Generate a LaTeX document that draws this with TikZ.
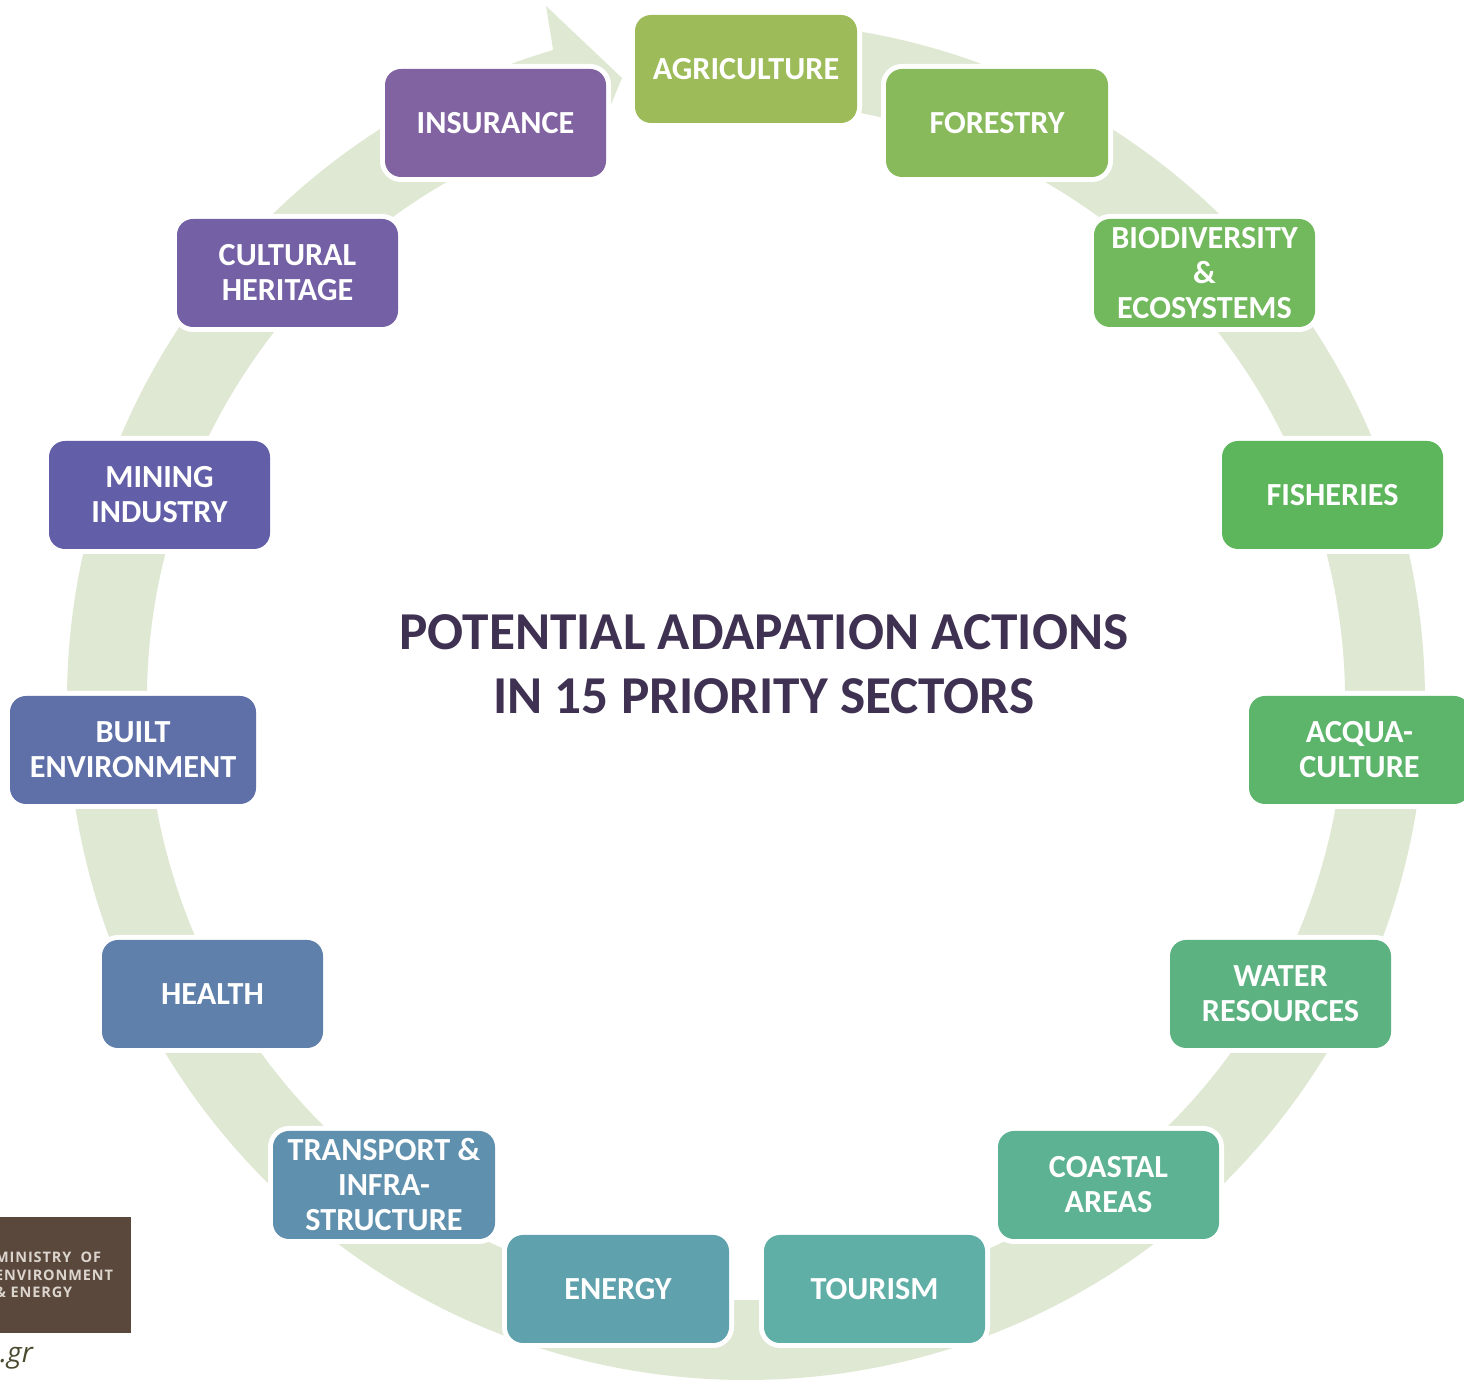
\documentclass[tikz,border=0pt]{standalone}
\usepackage{fontspec}
\usetikzlibrary{calc}
\setmainfont{Carlito}
\newfontfamily\logofont[LetterSpace=6]{Open Sans}
\newfontfamily\urlfont{Open Sans}
\definecolor{ringc}{HTML}{DFE8D3}
\definecolor{titlec}{HTML}{3F3151}
\definecolor{logoc}{HTML}{5A483C}
\definecolor{logot}{HTML}{DCD5CE}
\definecolor{urlc}{HTML}{4A4A30}
\definecolor{cAgri}{HTML}{9DBB59}
\definecolor{cFor}{HTML}{88B95A}
\definecolor{cBio}{HTML}{72B85C}
\definecolor{cFish}{HTML}{5DB65B}
\definecolor{cAcq}{HTML}{5DB46B}
\definecolor{cWat}{HTML}{5DB282}
\definecolor{cCoast}{HTML}{5DB293}
\definecolor{cTour}{HTML}{5FAFA7}
\definecolor{cEner}{HTML}{5FA1AD}
\definecolor{cTrans}{HTML}{5F90AD}
\definecolor{cHeal}{HTML}{5F80AA}
\definecolor{cBuilt}{HTML}{5F6FA8}
\definecolor{cMin}{HTML}{625FA8}
\definecolor{cCult}{HTML}{7360A5}
\definecolor{cIns}{HTML}{8263A1}
\tikzset{
  sector/.style={rounded corners=16pt,inner sep=0pt,text=white,align=center,
    font=\fontsize{32.2}{35}\selectfont\bfseries,
    preaction={draw=white,line width=10pt}},
  headline/.style={inner sep=0pt,text=titlec,align=center,font=\fontsize{53.3}{64}\selectfont\bfseries},
  logotext/.style={inner sep=0pt,anchor=west,text=logot,font=\fontsize{14.5}{18}\selectfont\logofont\bfseries},
}
% name, left, top, right, bottom, colour, text
\newcommand\sectorbox[7]{%
  \node[sector,fill=#6,minimum width={(#4-#2)*1pt},minimum height={(#5-#3)*1pt}]
    (#1) at ({(#2+#4)/2},{1380-(#3+#5)/2}) {#7};}
\begin{document}
\begin{tikzpicture}[x=1pt,y=1pt]
\useasboundingbox (0,0) rectangle (1464,1380);
\coordinate (ringcentre) at (746,679);
\coordinate (wingout) at (546,1374);
\coordinate (headtip) at (622,1302);
\coordinate (wingin) at (584,1210);
\fill[ringc] (ringcentre) ++(90:679pt)
  arc[start angle=90,end angle=-253.5,radius=679pt]
  -- (wingout) -- (headtip) -- (wingin) -- ($(ringcentre)+(106.5:599pt)$)
  arc[start angle=-253.5,end angle=90,radius=599pt] -- cycle;
\sectorbox{agri}{635}{15}{857}{123}{cAgri}{AGRICULTURE}
\sectorbox{forest}{886}{69}{1108}{177}{cFor}{FORESTRY}
\sectorbox{bio}{1094}{219}{1315}{327}{cBio}{BIODIVERSITY\\\&\\ECOSYSTEMS}
\sectorbox{fish}{1222}{441}{1443}{549}{cFish}{FISHERIES}
\sectorbox{acqua}{1249}{696}{1470}{804}{cAcq}{ACQUA-\\CULTURE}
\sectorbox{water}{1170}{940}{1391}{1048}{cWat}{WATER\\RESOURCES}
\sectorbox{coast}{998}{1131}{1219}{1239}{cCoast}{COASTAL\\AREAS}
\sectorbox{tour}{764}{1235}{985}{1343}{cTour}{TOURISM}
\sectorbox{ener}{507}{1235}{729}{1343}{cEner}{ENERGY}
\sectorbox{trans}{273}{1131}{495}{1239}{cTrans}{TRANSPORT \&\\INFRA-\\STRUCTURE}
\sectorbox{health}{102}{940}{323}{1048}{cHeal}{HEALTH}
\sectorbox{built}{10}{696}{256}{804}{cBuilt}{BUILT\\ENVIRONMENT}
\sectorbox{mining}{49}{441}{270}{549}{cMin}{MINING\\INDUSTRY}
\sectorbox{cult}{177}{219}{398}{327}{cCult}{CULTURAL\\HERITAGE}
\sectorbox{insur}{385}{69}{606}{177}{cIns}{INSURANCE}
\node[headline] (title) at (764,716) {POTENTIAL ADAPATION ACTIONS\\IN 15 PRIORITY SECTORS};
\fill[logoc] (0,47) rectangle (131,163);
\node[logotext] (logoa) at (-5,123) {MINISTRY\ \ OF};
\node[logotext] (logob) at (-5,105) {ENVIRONMENT};
\node[logotext] (logoc) at (-5,88) {\& ENERGY};
\node[inner sep=0pt,anchor=west,text=urlc,font=\fontsize{28}{30}\selectfont\urlfont\itshape] (url) at (0,22) {.gr};
\end{tikzpicture}
\end{document}
